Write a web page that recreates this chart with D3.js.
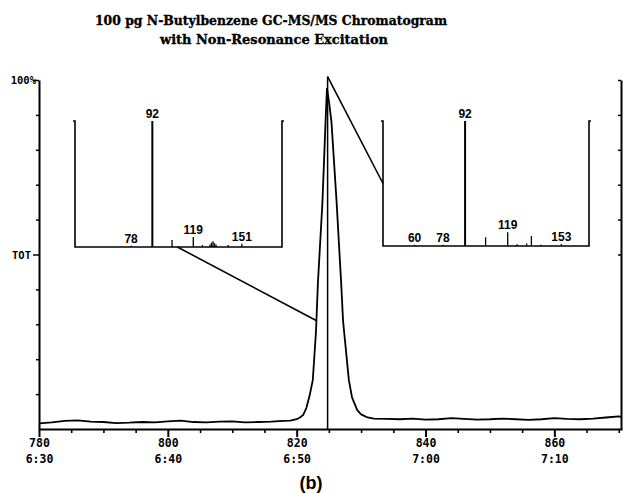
<!DOCTYPE html>
<html>
<head>
<meta charset="utf-8">
<script src="https://cdn.jsdelivr.net/npm/d3@7"></script>
<style>
  body { margin: 0; background: #fff; }
  svg { display: block; }
</style>
</head>
<body>
<div id="chart"></div>
<script>
// chromatogram trace (scan number, % of full scale)
const scans = [780, 782, 784, 786, 788, 790, 792, 794, 796, 798, 800, 802, 804, 806, 808, 810, 812, 814, 816, 818,
  819, 820, 820.5, 821, 821.5, 822, 822.5, 823, 823.3, 824, 824.5, 824.7, 825, 825.4, 826.2, 826.9, 827.2, 828.1, 828.6, 829.4, 830, 831,
  832, 834, 836, 838, 840, 842, 844, 846, 848, 850, 852, 854, 856, 858, 860, 862, 864, 866, 868, 870, 870.5];
const tic = [1.6, 1.9, 2.3, 2.5, 2.1, 2.0, 1.7, 1.8, 2.0, 1.9, 2.2, 2.4, 2.0, 1.9, 2.1, 2.2, 1.9, 2.0, 2.1, 2.3,
  2.4, 2.8, 3.3, 4.0, 6.0, 9.5, 14, 28, 42, 65, 89, 97.5, 94, 88, 65, 42, 31, 14, 9, 5.4, 4.2, 3.3,
  3.0, 2.9, 2.8, 3.0, 2.7, 2.8, 3.1, 2.9, 2.7, 2.8, 3.0, 2.8, 2.6, 2.8, 3.1, 2.9, 2.8, 3.0, 3.3, 3.6, 3.4];

// axis labels
const scanTicks = [780, 800, 820, 840, 860];
const timeTicks = ['6:30', '6:40', '6:50', '7:00', '7:10'];
const minorTicks = [785, 790, 795, 805, 810, 815, 825, 830, 835, 845, 850, 855, 865, 870];
const yTicks = [10, 20, 30, 40, 50, 60, 70, 80, 90, 100];
const yLabels = { 100: '100%', 50: 'TOT' };

// marker scan and where the two spectra were taken
const markerScan = 824.8;
const markerTop = 101;
const leftSpecScan = 823.1;
const leftSpecValue = 31;

// left mass spectrum
const leftMz = [78, 92, 105, 119, 125, 130, 131, 132, 133, 134, 142, 151];
const leftAbund = [1, 100, 5.5, 8, 1.5, 2, 3.5, 4.5, 3, 2, 1.5, 2.5];
const leftLabels = [78, 92, 119, 151];
const leftRange = [41, 177.5];

// right mass spectrum
const rightMz = [60, 78, 92, 105, 119, 125, 131, 134, 140, 153];
const rightAbund = [1, 1, 100, 7, 11, 1.5, 2, 8, 1, 1.5];
const rightLabels = [60, 78, 92, 119, 153];
const rightRange = [40, 170.5];

const width = 623;
const height = 493;

const svg = d3.select('#chart')
  .append('svg')
  .attr('width', width)
  .attr('height', height);

const x = d3.scaleLinear().domain([780, 870.5]).range([39, 622]);
const y = d3.scaleLinear().domain([0, 100]).range([429, 80]);

// title
const title = svg.append('g')
  .attr('font-family', 'DejaVu Serif')
  .attr('font-weight', 'bold')
  .attr('font-size', 13.5)
  .attr('stroke', '#000')
  .attr('stroke-width', 0.35)
  .attr('text-anchor', 'middle');
title.append('text').attr('x', 271).attr('y', 25)
  .attr('textLength', 352).attr('lengthAdjust', 'spacingAndGlyphs')
  .text('100 pg N-Butylbenzene GC-MS/MS Chromatogram');
title.append('text').attr('x', 274).attr('y', 44)
  .attr('textLength', 228).attr('lengthAdjust', 'spacingAndGlyphs')
  .text('with Non-Resonance Excitation');

// x axis, major + minor ticks
const xMajor = svg.append('g')
  .attr('transform', 'translate(0,429)')
  .call(d3.axisBottom(x).tickValues(scanTicks).tickSize(8).tickSizeOuter(0).tickFormat(''));
xMajor.select('.domain').attr('stroke-width', 2);
xMajor.selectAll('.tick line').attr('stroke-width', 2);
xMajor.selectAll('.tick').append('text')
  .attr('fill', '#000')
  .attr('font-family', 'DejaVu Sans Mono')
  .attr('font-weight', 'bold')
  .attr('font-size', 11.5)
  .attr('text-anchor', 'middle')
  .attr('y', 18)
  .text(d => d);
xMajor.selectAll('.tick').append('text')
  .attr('fill', '#000')
  .attr('font-family', 'DejaVu Sans Mono')
  .attr('font-weight', 'bold')
  .attr('font-size', 11.5)
  .attr('text-anchor', 'middle')
  .attr('y', 34)
  .text((d, i) => timeTicks[i]);

const xMinor = svg.append('g')
  .attr('transform', 'translate(0,429)')
  .call(d3.axisBottom(x).tickValues(minorTicks).tickSize(4).tickFormat(''));
xMinor.select('.domain').remove();
xMinor.selectAll('.tick line').attr('stroke-width', 1.6);

// left y axis
const yAxis = svg.append('g')
  .attr('transform', 'translate(39,0)')
  .call(d3.axisLeft(y).tickValues(yTicks).tickSizeOuter(0).tickFormat(''));
yAxis.select('.domain').attr('stroke-width', 2);
yAxis.selectAll('.tick line')
  .attr('stroke-width', 1.5)
  .attr('x2', d => yLabels[d] ? -6 : -3);
yAxis.selectAll('.tick').filter(d => yLabels[d]).append('text')
  .attr('fill', '#000')
  .attr('font-family', 'DejaVu Sans Mono')
  .attr('font-weight', 'bold')
  .attr('font-size', 10.5)
  .attr('text-anchor', 'end')
  .attr('x', d => d === 100 ? -3 : -8)
  .attr('dy', '0.35em')
  .text(d => yLabels[d]);

// right y axis
const yRight = svg.append('g')
  .attr('transform', 'translate(621,0)')
  .call(d3.axisLeft(y).tickValues(yTicks.filter(d => d >= 50)).tickSize(3).tickSizeOuter(0).tickFormat(''));
yRight.select('.domain').attr('stroke-width', 2);
yRight.selectAll('.tick line').attr('x2', 0).attr('x1', -3).attr('stroke-width', 1.5);

// chromatogram trace
const line = d3.line()
  .x((d, i) => x(scans[i]))
  .y(d => y(d));
svg.append('path')
  .datum(tic)
  .attr('fill', 'none')
  .attr('stroke', '#000')
  .attr('stroke-width', 1.8)
  .attr('stroke-linejoin', 'round')
  .attr('d', line);

// marker at the apex
svg.append('line')
  .attr('x1', x(markerScan)).attr('x2', x(markerScan))
  .attr('y1', y(0)).attr('y2', y(markerTop))
  .attr('stroke', '#000').attr('stroke-width', 1.5);

// draw one mass spectrum inset
function drawSpectrum(mz, abund, labels, domain, box) {
  const mx = d3.scaleLinear().domain(domain).range([box.x0, box.x1]);
  const my = d3.scaleLinear().domain([0, 100]).range([box.base, box.top]);
  const g = svg.append('g');

  g.append('path')
    .attr('fill', 'none')
    .attr('stroke', '#000')
    .attr('stroke-width', 1.6)
    .attr('d', `M${box.x0 - 2},${box.top}H${box.x0}V${box.base}H${box.x1}V${box.top}H${box.x1 + 2}`);

  g.selectAll('.peak')
    .data(mz)
    .enter()
    .append('line')
    .attr('class', 'peak')
    .attr('x1', d => mx(d)).attr('x2', d => mx(d))
    .attr('y1', box.base)
    .attr('y2', (d, i) => my(abund[i]))
    .attr('stroke', '#000')
    .attr('stroke-width', (d, i) => abund[i] > 50 ? 2 : 1.3);

  g.selectAll('.lab')
    .data(labels)
    .enter()
    .append('text')
    .attr('class', 'lab')
    .attr('x', d => mx(d))
    .attr('y', d => my(abund[mz.indexOf(d)]) - 3)
    .attr('text-anchor', 'middle')
    .attr('font-family', 'Liberation Sans')
    .attr('font-weight', 'bold')
    .attr('font-size', 12)
    .text(d => d);

  return { mx, my };
}

const left = drawSpectrum(leftMz, leftAbund, leftLabels, leftRange, { x0: 75, x1: 282, top: 121, base: 247 });
const right = drawSpectrum(rightMz, rightAbund, rightLabels, rightRange, { x0: 383, x1: 589, top: 121, base: 246 });

// connectors from the trace to the spectra
svg.append('line')
  .attr('x1', left.mx(108.5)).attr('y1', left.my(0))
  .attr('x2', x(leftSpecScan)).attr('y2', y(leftSpecValue))
  .attr('stroke', '#000').attr('stroke-width', 1.6);
svg.append('line')
  .attr('x1', x(markerScan)).attr('y1', y(markerTop))
  .attr('x2', right.mx(rightRange[0])).attr('y2', right.my(50))
  .attr('stroke', '#000').attr('stroke-width', 1.6);

// panel letter
svg.append('text')
  .attr('x', 311).attr('y', 489)
  .attr('text-anchor', 'middle')
  .attr('font-family', 'Liberation Sans')
  .attr('font-weight', 'bold')
  .attr('font-size', 18)
  .text('(b)');
</script>
</body>
</html>
